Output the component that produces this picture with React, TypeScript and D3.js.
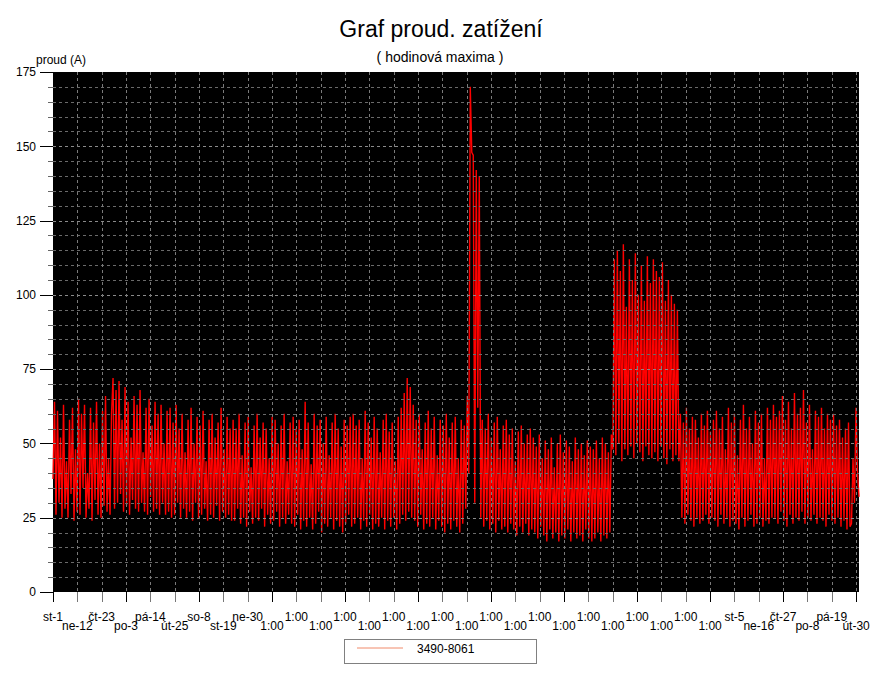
import React from "react";
import * as d3 from "d3";

// Hourly maxima of current (A)
const segA = [38, 64, 26, 61, 30, 52, 25, 63, 28, 44, 25, 58, 33, 62, 24, 48, 27, 65, 26, 60, 35, 63, 25, 40, 28, 62, 24, 57, 31, 64, 26, 50, 25, 61, 29, 66, 27, 45, 26, 60];
const segB = [72, 28, 68, 30, 71, 33, 58, 27, 69, 29, 64, 26, 52, 31, 66, 28, 63, 27, 68, 30, 47, 27, 62, 26, 65, 32, 56, 27, 64, 28, 60, 26, 63, 30, 50, 26, 61, 27, 62, 25];
const segC = [57, 26, 63, 30, 55, 25, 60, 28, 47, 25, 58, 27, 62, 24, 50, 30, 59, 25, 56, 26, 61, 28, 44, 24, 58, 26, 60, 25, 52, 29, 57, 24, 62, 27, 48, 25, 59, 26, 55, 24];
const segD = [58, 24, 55, 28, 60, 23, 46, 25, 57, 22, 59, 27, 42, 23, 56, 25, 60, 24, 52, 28, 57, 22, 55, 26, 45, 23, 59, 24, 58, 27, 50, 22, 56, 25, 60, 23, 44, 26, 57, 23];
const segE = [59, 22, 55, 26, 58, 21, 48, 24, 64, 22, 57, 25, 43, 21, 60, 23, 56, 27, 58, 20, 50, 23, 59, 22, 46, 25, 57, 21, 60, 24, 55, 22, 49, 20, 58, 23, 56, 26, 59, 22];
const segF = [60, 23, 56, 25, 58, 21, 45, 24, 61, 22, 57, 26, 52, 21, 59, 23, 55, 22, 47, 25, 58, 21, 60, 24, 54, 22, 57, 25, 44, 21, 59, 23, 62, 26, 67, 24, 72, 27, 69, 25];
const segG = [63, 24, 58, 22, 60, 26, 48, 21, 57, 23, 61, 22, 55, 25, 59, 21, 46, 24, 58, 22, 56, 20, 60, 23, 52, 21, 57, 24, 59, 22, 45, 20, 58, 23, 56, 28, 66, 40, 170, 148];
const segH = [147, 30, 142, 62, 140, 25, 58, 22, 55, 24, 60, 21, 52, 23, 57, 20, 59, 24, 48, 21, 56, 22, 58, 20, 53, 23, 55, 21, 44, 19, 54, 22, 56, 20, 50, 23, 53, 19, 55, 21];
const segI = [52, 20, 49, 18, 53, 22, 45, 19, 51, 17, 48, 21, 52, 18, 42, 20, 50, 17, 53, 19, 47, 18, 51, 21, 49, 17, 44, 20, 52, 18, 48, 19, 50, 17, 46, 21, 51, 18, 49, 17];
const segJ = [48, 18, 51, 20, 45, 17, 52, 19, 50, 18, 47, 20, 53, 48, 112, 46, 115, 50, 108, 44, 117, 48, 96, 46, 112, 49, 105, 45, 114, 50, 100, 47, 110, 44, 98, 49, 113, 46, 104, 45];
const segK = [112, 47, 108, 44, 106, 49, 111, 45, 98, 43, 105, 48, 100, 44, 97, 46, 95, 44, 60, 25, 57, 23, 62, 26, 55, 24, 59, 22, 58, 25, 52, 23, 60, 24, 56, 26, 61, 23, 54, 25];
const segL = [58, 24, 61, 22, 55, 26, 59, 23, 48, 25, 62, 22, 57, 24, 60, 23, 46, 21, 58, 25, 63, 22, 55, 24, 59, 26, 50, 22, 61, 23, 57, 25, 60, 22, 45, 24, 62, 23, 58, 25];
const segM = [63, 25, 59, 23, 61, 27, 66, 24, 58, 22, 64, 26, 55, 23, 67, 25, 60, 24, 62, 27, 68, 23, 57, 25, 63, 24, 48, 26, 61, 23, 59, 25, 62, 24, 55, 22, 60, 26, 58, 24];
const segN = [60, 23, 56, 25, 58, 22, 52, 24, 55, 21, 57, 22, 23, 45, 30, 62, 40, 32];

const xTickLabels = [
  "st-1", "ne-12", "čt-23", "po-3", "pá-14", "út-25", "so-8", "st-19", "ne-30",
  "1:00", "1:00", "1:00", "1:00", "1:00", "1:00", "1:00", "1:00", "1:00", "1:00",
  "1:00", "1:00", "1:00", "1:00", "1:00", "1:00", "1:00", "1:00", "1:00",
  "st-5", "ne-16", "čt-27", "po-8", "pá-19", "út-30",
];
const yMajorTicks = [0, 25, 50, 75, 100, 125, 150, 175];
const seriesName = "3490-8061";
const title = "Graf proud. zatížení";
const subtitle = "( hodinová maxima )";
const yAxisTitle = "proud (A)";

const values = [...segA, ...segB, ...segC, ...segD, ...segE, ...segF, ...segG, ...segH, ...segI, ...segJ, ...segK, ...segL, ...segM, ...segN];

export default function App() {
  const W = 880, H = 681;
  const left = 53, right = 859, top = 72, bottom = 592;
  const font = "Arial, 'Liberation Sans', sans-serif";

  const x = d3.scaleLinear().domain([0, values.length - 1]).range([left, right]);
  const xt = d3.scaleLinear().domain([0, 33.12]).range([left, right]);
  const y = d3.scaleLinear().domain([0, 175]).range([bottom, top]);

  const line = d3.line<number>().x((_, i) => x(i)).y((d) => y(d));
  const minor = d3.range(0, 176, 5);
  const tickIdx = d3.range(0, xTickLabels.length);

  return (
    <svg width={W} height={H} style={{ position: "absolute", left: 0, top: 0, background: "#fff" }} fontFamily={font}>
      <rect x={0} y={0} width={W} height={H} fill="#fff" />
      <text x={441} y={37} textAnchor="middle" fontSize={23}>{title}</text>
      <text x={440} y={62} textAnchor="middle" fontSize={14}>{subtitle}</text>
      <text x={36} y={64} fontSize={12}>{yAxisTitle}</text>

      <rect x={left} y={top} width={right - left} height={bottom - top} fill="#000" />
      <path d={line(values) || ""} fill="none" stroke="#ff0000" strokeWidth={1.4} />

      {/* grid */}
      {minor.filter((v) => v > 0 && v < 175).map((v) => (
        <line key={"hg" + v} x1={left} x2={right} y1={Math.round(y(v)) + 0.5} y2={Math.round(y(v)) + 0.5}
          stroke={v % 25 === 0 ? "#8a8a8a" : "#6a6a6a"} strokeDasharray="3,3" />
      ))}
      {tickIdx.filter((i) => i > 0).map((i) => (
        <line key={"vg" + i} x1={Math.round(xt(i)) + 0.5} x2={Math.round(xt(i)) + 0.5} y1={top} y2={bottom}
          stroke="#7a7a7a" strokeDasharray="3,3" />
      ))}

      {/* y axis */}
      {minor.map((v) => (
        <line key={"yt" + v} x1={v % 25 === 0 ? 40 : 48} x2={left} y1={Math.round(y(v)) + 0.5} y2={Math.round(y(v)) + 0.5}
          stroke={v % 25 === 0 ? "#000" : "#666"} />
      ))}
      {yMajorTicks.map((v) => (
        <text key={"yl" + v} x={36} y={y(v)} dy="0.36em" textAnchor="end" fontSize={12}>{v}</text>
      ))}

      {/* x axis */}
      {tickIdx.map((i) => (
        <line key={"xt" + i} x1={Math.round(xt(i)) + 0.5} x2={Math.round(xt(i)) + 0.5} y1={bottom} y2={bottom + 10}
          stroke={i % 3 === 0 ? "#000" : "#777"} />
      ))}
      {xTickLabels.map((lab, i) => (
        <text key={"xl" + i} x={xt(i)} y={i % 2 === 0 ? 621 : 630} textAnchor="middle" fontSize={12}>{lab}</text>
      ))}

      {/* legend */}
      <rect x={344.5} y={639.5} width={192} height={24} fill="#fff" stroke="#808080" />
      <line x1={357} x2={403} y1={648} y2={648} stroke="#f08a6a" strokeWidth={1} />
      <text x={417} y={653} fontSize={12}>{seriesName}</text>
    </svg>
  );
}
